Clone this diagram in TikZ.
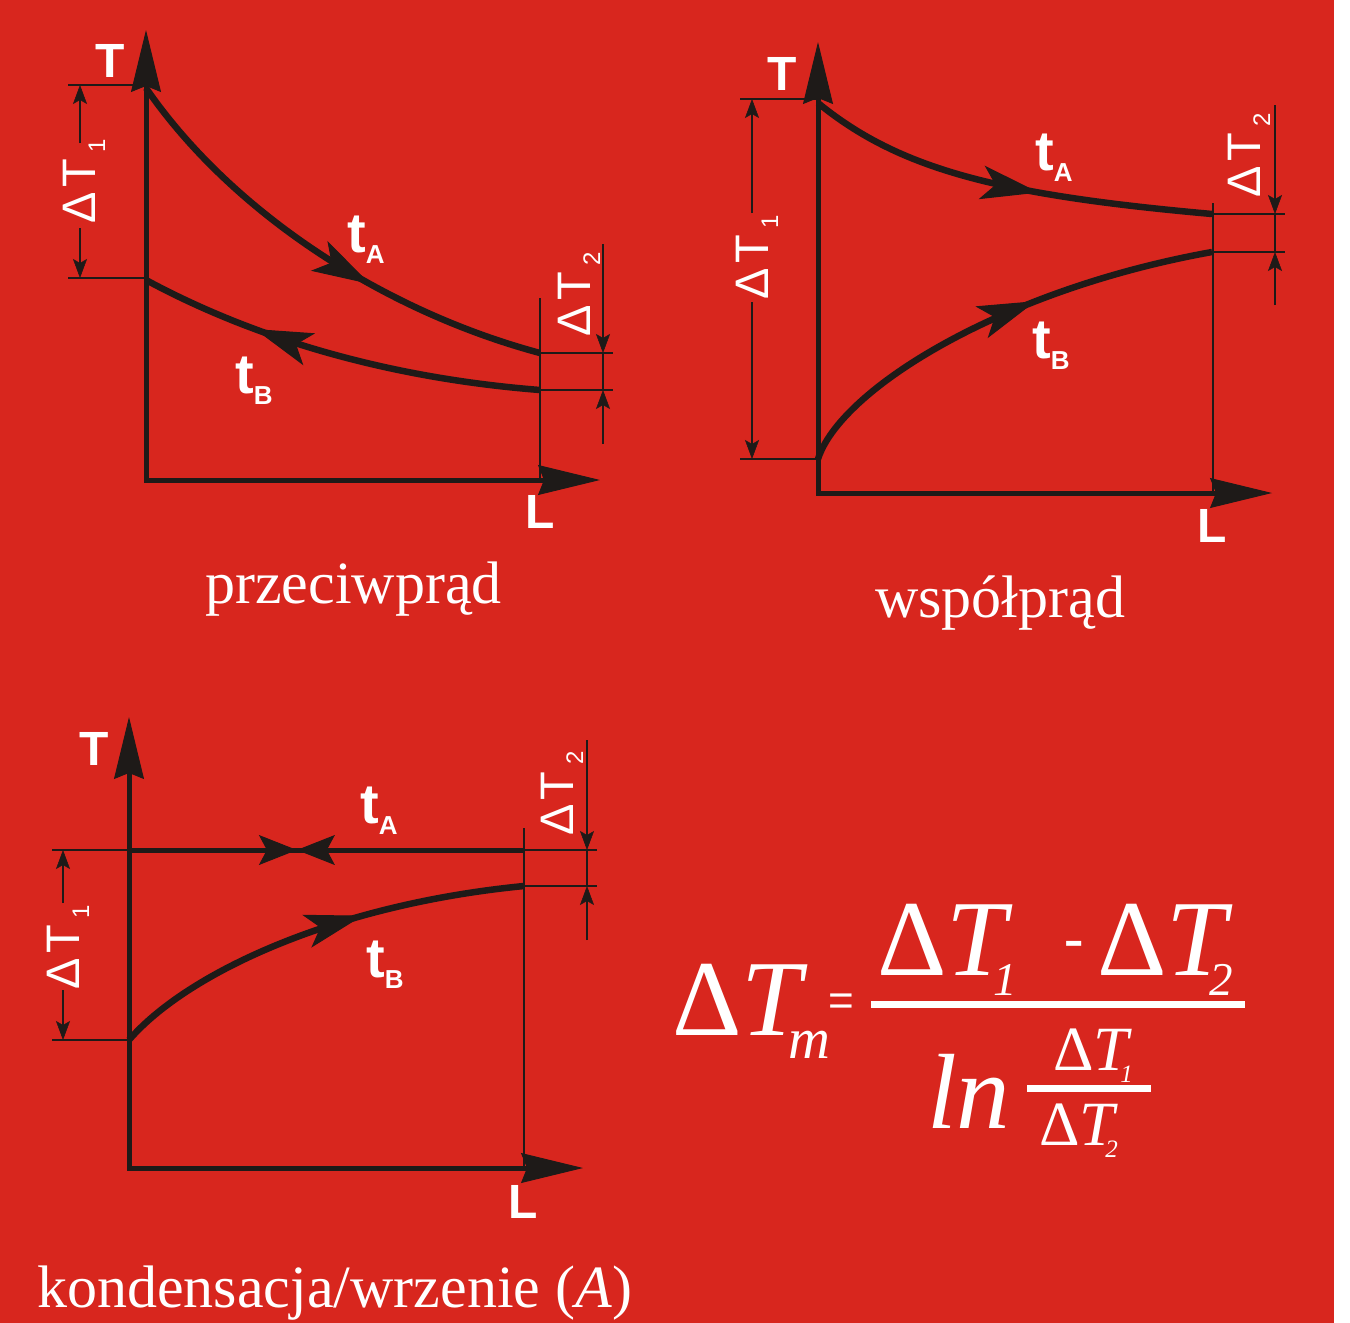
\documentclass[tikz,border=0pt]{standalone}
\usepackage{fontspec}
\setmainfont{Liberation Serif}
\setsansfont{Liberation Sans}
\usetikzlibrary{calc,arrows.meta,decorations.markings}

\definecolor{bgred}{HTML}{D8261E}
\definecolor{ink}{HTML}{1E1A18}

\newcommand{\tlab}[1]{\sffamily\bfseries\fontsize{56}{56}\selectfont t\raisebox{-11pt}{\fontsize{26}{26}\selectfont #1}}
\newcommand{\dlab}[1]{\sffamily\fontsize{47}{47}\selectfont Δ\kern4pt T\kern7pt\raisebox{-10pt}{\fontsize{24}{24}\selectfont #1}}
\newcommand{\dTf}[4]{Δ\textit{T}\kern#3\raisebox{#4}{\fontsize{#2}{#2}\selectfont\textit{#1}}}

\tikzset{
  axis/.style={ink, line width=5pt, line join=miter,
    {Stealth[length=62pt,width=30pt,inset=6pt,line width=1pt]}-{Stealth[length=62pt,width=30pt,inset=6pt,line width=1pt]}},
  flow/.style={ink, line width=6.5pt},
  dimline/.style={ink, line width=1.8pt},
  dimtip/.style={dimline, -{Stealth[length=19pt,width=14pt,inset=4pt,line width=0.5pt]}},
  fwd/.style={postaction={decorate}, decoration={markings,
    mark=at position #1 with {\arrow{Stealth[length=58pt,width=34pt,inset=14pt,line width=1pt]}}}},
  bwd/.style={postaction={decorate}, decoration={markings,
    mark=at position #1 with {\arrowreversed{Stealth[length=58pt,width=34pt,inset=14pt,line width=1pt]}}}},
  meet/.style={postaction={decorate}, decoration={markings,
    mark=at position #1 with {\arrow{Stealth[length=38pt,width=30pt,inset=8pt,line width=1pt]}},
    mark=at position #1 with {\arrowreversed{Stealth[length=38pt,width=30pt,inset=8pt,line width=1pt]}}}},
  lbl/.style={anchor=base west, inner sep=0pt, text=white},
  dlbl/.style={anchor=base, inner sep=0pt, text=white, rotate=90},
  caption/.style={anchor=base west, inner sep=0pt, text=white, font=\fontsize{60}{60}\selectfont},
}

\begin{document}
\begin{tikzpicture}[x=1pt,y=-1pt]
\useasboundingbox (0,0) rectangle (1350,1323);
\fill[white] (0,0) rectangle (1350,1323);
\fill[bgred] (0,0) rectangle (1334,1323);

% przeciwprad
\coordinate (cAT) at (146,30);
\coordinate (cAO) at (146,480);
\coordinate (cAL) at (600,480);
\coordinate (cAa0) at (146,88);
\coordinate (cAa1) at (540,353);
\coordinate (cAb0) at (146,280);
\coordinate (cAb1) at (540,390);

% wspolprad
\coordinate (cBT) at (818,42);
\coordinate (cBO) at (818,493);
\coordinate (cBL) at (1272,493);
\coordinate (cBa0) at (818,103);
\coordinate (cBa1) at (1212,214);
\coordinate (cBb0) at (818,459);
\coordinate (cBb1) at (1212,252);

% kondensacja
\coordinate (cCT) at (129,717);
\coordinate (cCO) at (129,1168);
\coordinate (cCL) at (583,1168);
\coordinate (cCa0) at (129,850);
\coordinate (cCa1) at (524,850);
\coordinate (cCb0) at (129,1040);
\coordinate (cCb1) at (524,886);

\foreach \xa/\xb/\y in
{   68/146/85, 68/146/278, 540/613/353, 540/613/390,
    740/818/99, 740/818/459, 1213/1285/214, 1213/1285/252,
    52/129/850, 52/129/1040, 524/597/850, 524/597/886
}
{
    \draw[dimline] (\xa,\y) -- (\xb,\y);
};

\draw[dimline] (540,298) -- (cAO -| 540,0);
\draw[dimline] (1213,203) -- (cBO -| 1213,0);
\draw[dimline] (524,828) -- (cCO -| 524,0);

\foreach \x/\ya/\yb in
{   80/143/85, 80/228/278, 603/244/353, 603/444/390,
    752/213/99, 752/302/459, 1275/105/214, 1275/305/252,
    63/903/850, 63/990/1040, 587/740/850, 587/940/886
}
{
    \draw[dimtip] (\x,\ya) -- (\x,\yb);
};
\draw[dimline] (603,353) -- (603,390);
\draw[dimline] (1275,214) -- (1275,252);
\draw[dimline] (587,850) -- (587,886);

\draw[flow, fwd=0.62] (cAa0) .. controls (230,210) and (380,310) .. (cAa1);
\draw[flow, bwd=0.29] (cAb0) .. controls (220,320) and (350,375) .. (cAb1);
\draw[flow, fwd=0.58] (cBa0) .. controls (900,170) and (1000,195) .. (cBa1);
\draw[flow, fwd=0.6] (cBb0) .. controls (840,390) and (1000,290) .. (cBb1);
\draw[flow, line width=5pt, meet=0.425] (cCa0) -- (cCa1);
\draw[flow, fwd=0.62] (cCb0) .. controls (185,975) and (330,905) .. (cCb1);

\draw[axis] (cAT) -- (cAO) -- (cAL);
\draw[axis] (cBT) -- (cBO) -- (cBL);
\draw[axis] (cCT) -- (cCO) -- (cCL);

\foreach \x/\y/\t in
{   95/77/T, 525/528/L, 767/90/T, 1197/542/L, 79/765/T, 508/1218/L
}
{
    \node[lbl, font=\sffamily\bfseries\fontsize{48}{48}\selectfont] at (\x,\y) {\t};
};

\foreach \x/\y/\s in
{   347/252/A, 235/393/B, 1035/170/A, 1032/358/B, 360/823/A, 366/977/B
}
{
    \node[lbl] at (\x,\y) {\tlab{\s}};
};

\foreach \x/\y/\s in
{   95/181/1, 590/294/2, 768/257/1, 1260/155/2, 79/947/1, 573/790/2
}
{
    \node[dlbl] at (\x,\y) {\dlab{\s}};
};

\node[caption] (capA) at (205,603) {przeciwprąd};
\node[caption] (capB) at (875,617) {współprąd};
\node[caption] (capC) at (37,1307) {kondensacja/wrzenie (\textit{A})};

\node[lbl, font=\fontsize{108}{108}\selectfont] (fTm) at (672,1035) {\dTf{m}{58}{-20pt}{-23pt}};
\node[inner sep=0pt, text=white, font=\sffamily\fontsize{44}{44}\selectfont] (fEq) at (841,1005) {=};
\draw[white, line width=6.5pt] (871,1004.5) -- (1245,1004.5);
\node[lbl, font=\fontsize{108}{108}\selectfont] (fN1) at (877,975) {\dTf{1}{47}{-20pt}{-20pt}};
\node[lbl, font=\bfseries\fontsize{58}{58}\selectfont] (fMinus) at (1064,957) {-};
\node[lbl, font=\fontsize{108}{108}\selectfont] (fN2) at (1097,975) {\dTf{2}{47}{-24pt}{-20pt}};
\node[lbl, font=\fontsize{107}{107}\selectfont] (fLn) at (927,1128) {\textit{ln}};
\draw[white, line width=6.5pt] (1027,1088.5) -- (1151,1088.5);
\node[lbl, font=\fontsize{63}{63}\selectfont] (fD1) at (1053,1070) {\dTf{1}{25}{-12pt}{-12pt}};
\node[lbl, font=\fontsize{63}{63}\selectfont] (fD2) at (1039,1145) {\dTf{2}{25}{-13pt}{-12pt}};

\end{tikzpicture}
\end{document}
